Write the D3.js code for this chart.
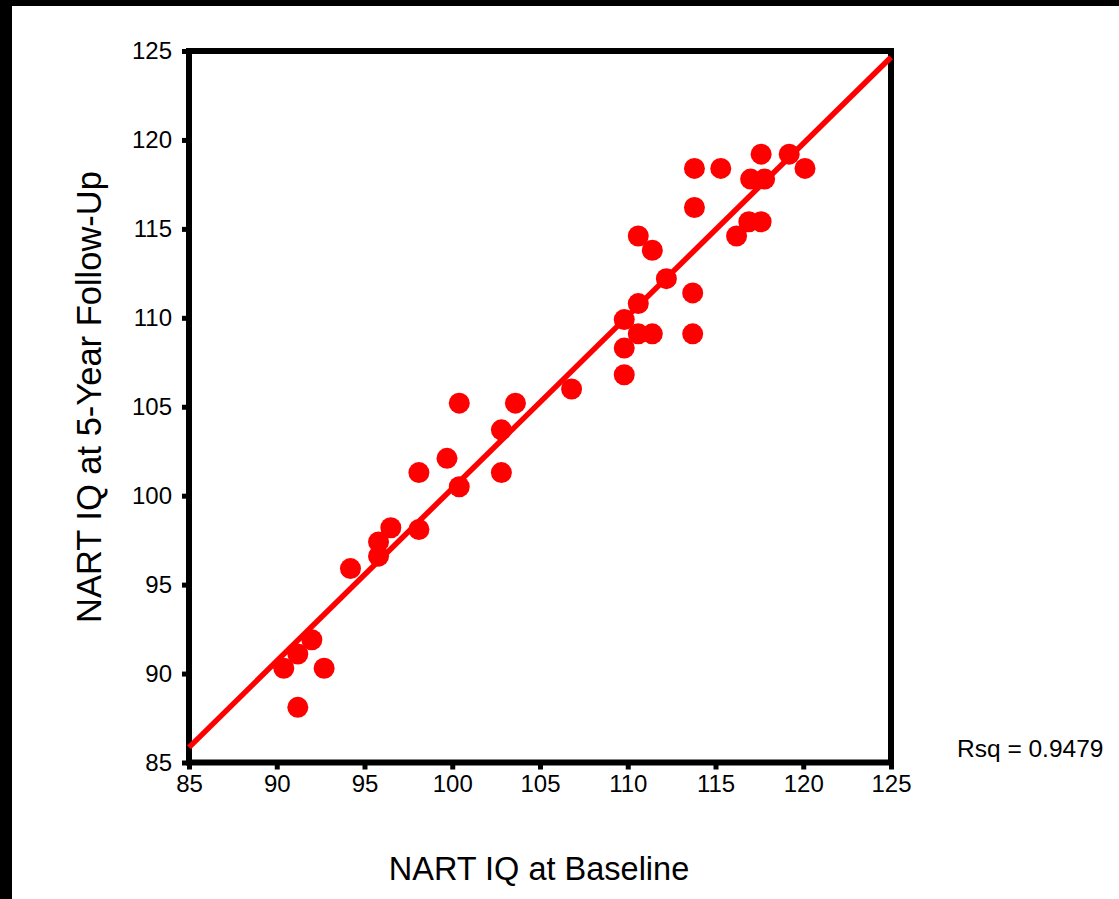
<!DOCTYPE html>
<html>
<head>
<meta charset="utf-8">
<script src="https://cdn.jsdelivr.net/npm/d3@7"></script>
<style>
  body { margin: 0; background: #000; }
  text { font-family: "Liberation Sans", Arial, sans-serif; }
</style>
</head>
<body>
<div class="chart"></div>
<script>
// NART IQ at baseline vs. at 5-year follow-up
var baselineIQ = [90.4, 91.2, 92.0, 92.7, 91.2, 94.2, 95.8, 95.8, 96.5, 98.1,
    98.1, 99.7, 100.4, 100.4, 102.8, 102.8, 103.6, 106.8, 109.8, 109.8,
    109.8, 110.6, 111.4, 113.7, 110.6, 113.7, 112.2, 111.4, 110.6, 113.8,
    113.8, 115.3, 117.6, 119.2, 120.1, 117.0, 117.8, 116.9, 117.6, 116.2];
var followUpIQ = [90.3, 91.1, 91.9, 90.3, 88.1, 95.9, 96.6, 97.4, 98.2, 98.1,
    101.3, 102.1, 100.5, 105.2, 101.3, 103.7, 105.2, 106.0, 106.8, 108.3,
    109.9, 109.1, 109.1, 109.1, 110.8, 111.4, 112.2, 113.8, 114.6, 116.2,
    118.4, 118.4, 119.2, 119.2, 118.4, 117.8, 117.8, 115.4, 115.4, 114.6];
var tickValues = [85, 90, 95, 100, 105, 110, 115, 120, 125];
// fitted line y = a + b*x
var fitIntercept = 3.4;
var fitSlope = 0.970;
var rsqLabel = "Rsq = 0.9479";

var data = baselineIQ.map((d, i) => ({x: d, y: followUpIQ[i]}));

var svgWidth = 1119;
var svgHeight = 899;
var margin = {top: 51, right: 228, bottom: 136.5, left: 189};
var width = svgWidth - margin.left - margin.right;
var height = svgHeight - margin.top - margin.bottom;

var svg = d3.select(".chart")
    .append("svg")
    .attr("width", svgWidth)
    .attr("height", svgHeight)
    .style("display", "block");

// black frame on the top and left edges
svg.append("rect")
    .attr("width", svgWidth).attr("height", svgHeight)
    .attr("fill", "#000");
svg.append("rect")
    .attr("x", 12).attr("y", 6)
    .attr("width", svgWidth - 12).attr("height", svgHeight - 6)
    .attr("fill", "#fff");

var chartGroup = svg.append("g")
    .attr("transform", `translate(${margin.left}, ${margin.top})`);

var xScale = d3.scaleLinear().domain([85, 125]).range([0, width]);
var yScale = d3.scaleLinear().domain([85, 125]).range([height, 0]);

var bottomAxis = d3.axisBottom(xScale).tickValues(tickValues)
    .tickSize(7).tickSizeOuter(0).tickPadding(8);
var leftAxis = d3.axisLeft(yScale).tickValues(tickValues)
    .tickSize(7).tickSizeOuter(0).tickPadding(10);

var xAxis = chartGroup.append("g")
    .attr("transform", `translate(0,${height})`)
    .call(bottomAxis);
var yAxis = chartGroup.append("g")
    .call(leftAxis);

[xAxis, yAxis].forEach(ax => {
    ax.select(".domain").remove();
    ax.selectAll("line").attr("stroke", "#000").attr("stroke-width", 5);
    ax.selectAll("text")
        .attr("fill", "#000")
        .attr("font-size", "24px");
});
xAxis.selectAll("text").attr("dy", "0.71em").attr("y", 12);

// plot frame
chartGroup.append("rect")
    .attr("width", width)
    .attr("height", height)
    .attr("fill", "none")
    .attr("stroke", "#000")
    .attr("stroke-width", 6);

// fit line
var line = d3.line()
    .x(d => xScale(d))
    .y(d => yScale(fitIntercept + fitSlope * d));
chartGroup.append("path")
    .datum([85, 125])
    .attr("d", line)
    .attr("fill", "none")
    .attr("stroke", "#ff0000")
    .attr("stroke-width", 5.5);

// points
chartGroup.selectAll("circle")
    .data(data)
    .enter()
    .append("circle")
    .attr("cx", d => xScale(d.x))
    .attr("cy", d => yScale(d.y))
    .attr("r", 10.5)
    .attr("fill", "#ff0000");

// Rsq label
svg.append("text")
    .attr("x", 957)
    .attr("y", 757)
    .attr("font-size", "24.5px")
    .attr("fill", "#000")
    .text(rsqLabel);

// axis titles
svg.append("text")
    .attr("x", 539)
    .attr("y", 880)
    .attr("text-anchor", "middle")
    .attr("font-size", "32.5px")
    .attr("fill", "#000")
    .text("NART IQ at Baseline");

svg.append("text")
    .attr("transform", "translate(101, 397) rotate(-90)")
    .attr("text-anchor", "middle")
    .attr("font-size", "34.5px")
    .attr("fill", "#000")
    .text("NART IQ at 5-Year Follow-Up");
</script>
</body>
</html>
